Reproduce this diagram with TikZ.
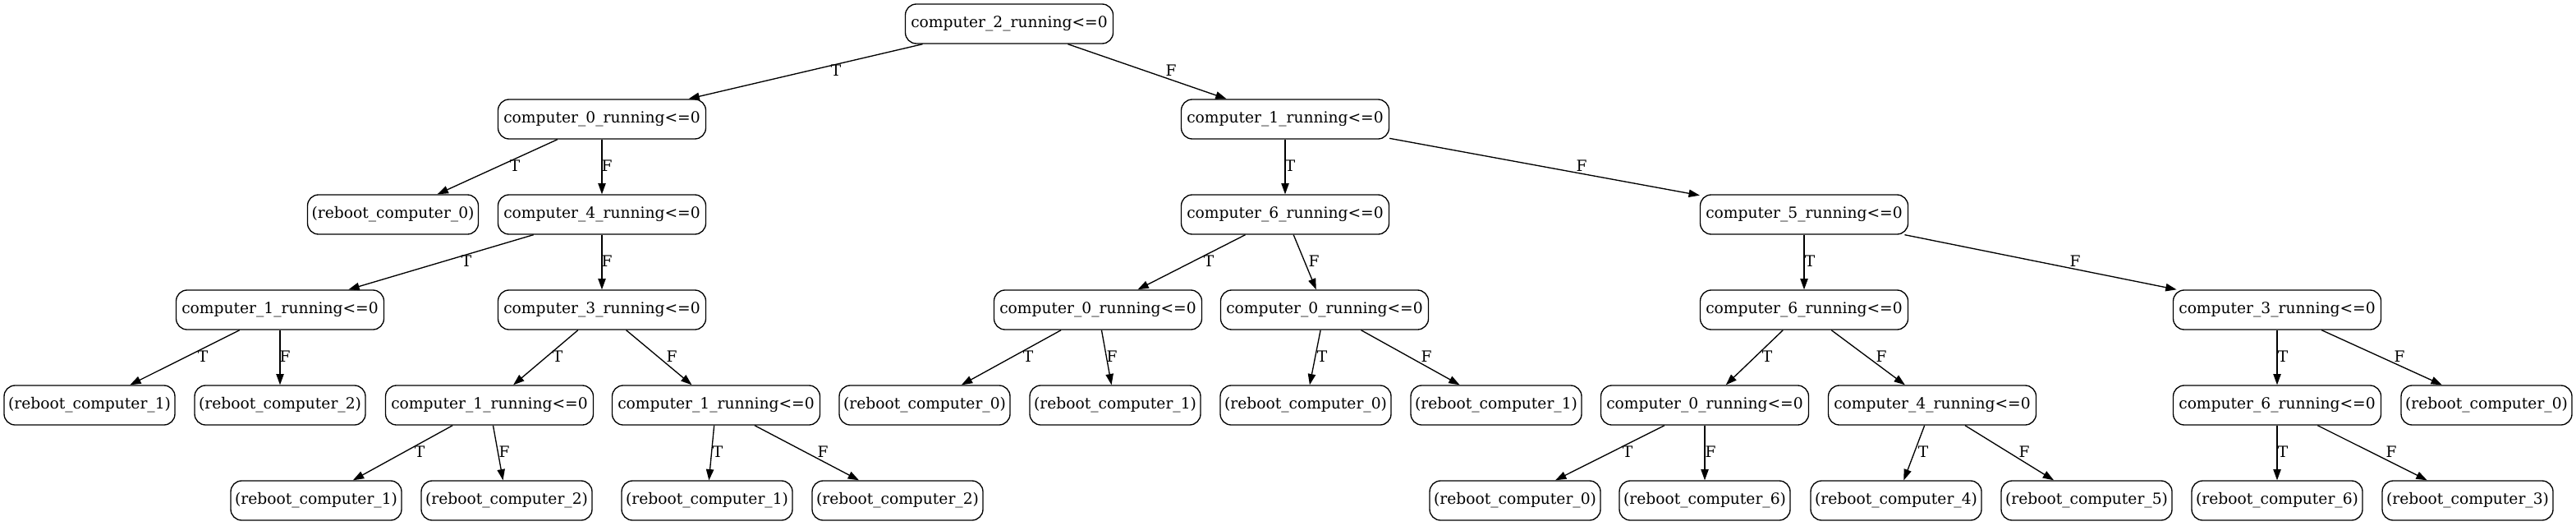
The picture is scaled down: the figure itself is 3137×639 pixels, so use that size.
\documentclass[tikz,border=0pt]{standalone}
\usepackage{fontspec}
\setmainfont{DejaVu Serif}
\usetikzlibrary{arrows.meta}
\begin{document}
\begin{tikzpicture}[x=0.75pt,y=-0.75pt,
  every node/.style={font=\fontsize{14pt}{16pt}\selectfont},
  dec/.style={draw, line width=1pt, rounded corners=10pt, minimum height=36pt, minimum width=189.75pt, inner xsep=3pt, inner ysep=0pt},
  leaf/.style={draw, line width=1pt, rounded corners=10pt, minimum height=36pt, minimum width=156pt, inner xsep=3pt, inner ysep=0pt},
  edge/.style={line width=1pt, -{Triangle[length=10pt,width=7pt]}},
  lbl/.style={inner sep=0pt}]
\useasboundingbox (0,0) rectangle (3137,639);
% level 0
\node[dec] (n0) at (1229,29) {computer\_2\_running<=0};
% level 1
\node[dec] (n1) at (733,145) {computer\_0\_running<=0};
\node[dec] (n2) at (1565,145) {computer\_1\_running<=0};
% level 2
\node[leaf] (n3) at (478.5,261) {(reboot\_computer\_0)};
\node[dec] (n4) at (733,261) {computer\_4\_running<=0};
\node[dec] (n5) at (1565,261) {computer\_6\_running<=0};
\node[dec] (n6) at (2197,261) {computer\_5\_running<=0};
% level 3
\node[dec] (n7) at (341,377) {computer\_1\_running<=0};
\node[dec] (n8) at (733,377) {computer\_3\_running<=0};
\node[dec] (n9) at (1337,377) {computer\_0\_running<=0};
\node[dec] (n10) at (1613,377) {computer\_0\_running<=0};
\node[dec] (n11) at (2197,377) {computer\_6\_running<=0};
\node[dec] (n12) at (2773,377) {computer\_3\_running<=0};
% level 4
\node[leaf] (n13) at (109,493) {(reboot\_computer\_1)};
\node[leaf] (n14) at (341,493) {(reboot\_computer\_2)};
\node[dec] (n15) at (596,493) {computer\_1\_running<=0};
\node[dec] (n16) at (872,493) {computer\_1\_running<=0};
\node[leaf] (n17) at (1126,493) {(reboot\_computer\_0)};
\node[leaf] (n18) at (1358,493) {(reboot\_computer\_1)};
\node[leaf] (n19) at (1590,493) {(reboot\_computer\_0)};
\node[leaf] (n20) at (1822,493) {(reboot\_computer\_1)};
\node[dec] (n21) at (2076,493) {computer\_0\_running<=0};
\node[dec] (n22) at (2353,493) {computer\_4\_running<=0};
\node[dec] (n23) at (2773,493) {computer\_6\_running<=0};
\node[leaf] (n24) at (3028,493) {(reboot\_computer\_0)};
% level 5
\node[leaf] (n25) at (385,609) {(reboot\_computer\_1)};
\node[leaf] (n26) at (617,609) {(reboot\_computer\_2)};
\node[leaf] (n27) at (861,609) {(reboot\_computer\_1)};
\node[leaf] (n28) at (1093,609) {(reboot\_computer\_2)};
\node[leaf] (n29) at (1845,609) {(reboot\_computer\_0)};
\node[leaf] (n30) at (2076,609) {(reboot\_computer\_6)};
\node[leaf] (n31) at (2309,609) {(reboot\_computer\_4)};
\node[leaf] (n32) at (2541,609) {(reboot\_computer\_5)};
\node[leaf] (n33) at (2773,609) {(reboot\_computer\_6)};
\node[leaf] (n34) at (3005,609) {(reboot\_computer\_3)};
% edges
\draw[edge] (n0) -- (n1) node[lbl] (l1) at (1018,86) {T};
\draw[edge] (n0) -- (n2) node[lbl] (l2) at (1426,86) {F};
\draw[edge] (n1) -- (n3) node[lbl] (l3) at (627,202) {T};
\draw[edge] (n1) -- (n4) node[lbl] (l4) at (739,202) {F};
\draw[edge] (n2) -- (n5) node[lbl] (l5) at (1571,202) {T};
\draw[edge] (n2) -- (n6) node[lbl] (l6) at (1926,202) {F};
\draw[edge] (n4) -- (n7) node[lbl] (l7) at (568,318) {T};
\draw[edge] (n4) -- (n8) node[lbl] (l8) at (739,318) {F};
\draw[edge] (n5) -- (n9) node[lbl] (l9) at (1472,318) {T};
\draw[edge] (n5) -- (n10) node[lbl] (l10) at (1600,318) {F};
\draw[edge] (n6) -- (n11) node[lbl] (l11) at (2204,318) {T};
\draw[edge] (n6) -- (n12) node[lbl] (l12) at (2527,318) {F};
\draw[edge] (n7) -- (n13) node[lbl] (l13) at (247,434) {T};
\draw[edge] (n7) -- (n14) node[lbl] (l14) at (347,434) {F};
\draw[edge] (n8) -- (n15) node[lbl] (l15) at (679,434) {T};
\draw[edge] (n8) -- (n16) node[lbl] (l16) at (818,434) {F};
\draw[edge] (n9) -- (n17) node[lbl] (l17) at (1252,434) {T};
\draw[edge] (n9) -- (n18) node[lbl] (l18) at (1354,434) {F};
\draw[edge] (n10) -- (n19) node[lbl] (l19) at (1610,434) {T};
\draw[edge] (n10) -- (n20) node[lbl] (l20) at (1737,434) {F};
\draw[edge] (n11) -- (n21) node[lbl] (l21) at (2152,434) {T};
\draw[edge] (n11) -- (n22) node[lbl] (l22) at (2291,434) {F};
\draw[edge] (n12) -- (n23) node[lbl] (l23) at (2780,434) {T};
\draw[edge] (n12) -- (n24) node[lbl] (l24) at (2922,434) {F};
\draw[edge] (n15) -- (n25) node[lbl] (l25) at (511,550) {T};
\draw[edge] (n15) -- (n26) node[lbl] (l26) at (614,550) {F};
\draw[edge] (n16) -- (n27) node[lbl] (l27) at (874,550) {T};
\draw[edge] (n16) -- (n28) node[lbl] (l28) at (1002,550) {F};
\draw[edge] (n21) -- (n29) node[lbl] (l29) at (1982,550) {T};
\draw[edge] (n21) -- (n30) node[lbl] (l30) at (2083,550) {F};
\draw[edge] (n22) -- (n31) node[lbl] (l31) at (2342,550) {T};
\draw[edge] (n22) -- (n32) node[lbl] (l32) at (2465,550) {F};
\draw[edge] (n23) -- (n33) node[lbl] (l33) at (2780,550) {T};
\draw[edge] (n23) -- (n34) node[lbl] (l34) at (2912,550) {F};
\end{tikzpicture}
\end{document}
